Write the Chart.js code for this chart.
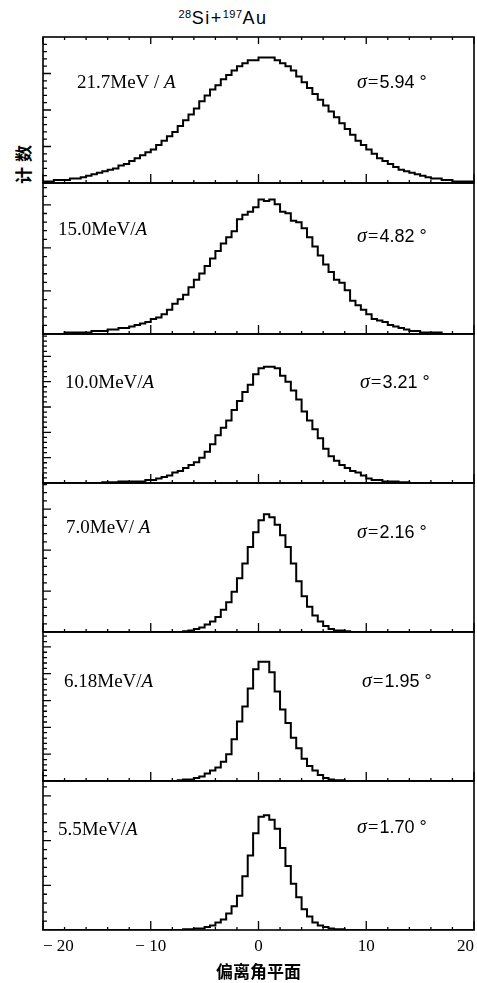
<!DOCTYPE html>
<html>
<head>
<meta charset="utf-8">
<script src="https://cdn.jsdelivr.net/npm/chart.js@4.4.0/dist/chart.umd.min.js"></script>
<style>
  html, body { margin: 0; padding: 0; background: #fff; overflow: hidden; }
  #wrap { position: relative; width: 477px; height: 983px; }
  #wrap canvas { position: absolute; left: 0; }
  #title { position: absolute; left: 0; width: 446px; top: 8px; text-align: center;
           font: 18px "Liberation Sans", Arial, sans-serif; letter-spacing: 1.5px; color: #000; }
  #title sup { font-size: 11px; vertical-align: 6px; letter-spacing: 0.5px; }
  #ylab { position: absolute; left: 22px; top: 162px; transform: translate(-50%, -50%) rotate(-90deg);
          white-space: nowrap; font: bold 17px "Noto Sans CJK SC", sans-serif; letter-spacing: 5px; color: #000; }
</style>
</head>
<body>
<div id="wrap">
  <div id="title"><sup>28</sup>Si+<sup>197</sup>Au</div>
  <div id="ylab">计数</div>
</div>
<script>
// bins: 0.5 degree wide, from -20 to +20
const binStart = -20;
const binWidth = 0.5;

const energies = ["21.7MeV / ", "15.0MeV/", "10.0MeV/", "7.0MeV/ ", "6.18MeV/", "5.5MeV/"];
const sigmas = ["5.94", "4.82", "3.21", "2.16", "1.95", "1.70"];
const xTickLabels = [-20, -10, 0, 10, 20];

// counts, in % of panel height
const counts21_7 = [1, 1, 2, 2, 2, 3, 3, 4, 5, 6, 7, 8, 9, 10, 12, 13, 15, 17, 19, 21,
  23, 26, 29, 32, 35, 39, 43, 47, 51, 56, 60, 64, 67, 71, 74, 77, 80, 82, 84, 84,
  86, 86, 86, 84, 82, 80, 77, 73, 69, 65, 61, 57, 53, 49, 45, 41, 37, 33, 29, 26,
  23, 20, 17, 15, 13, 11, 9, 8, 7, 6, 5, 4, 3, 3, 2, 2, 1, 1, 1, 1];
const counts15_0 = [0, 0, 0, 0, 1, 1, 1, 1, 1, 2, 2, 2, 3, 3, 4, 4, 5, 6, 7, 8,
  10, 11, 13, 16, 20, 23, 26, 31, 36, 40, 45, 50, 55, 60, 64, 68, 76, 79, 81, 84,
  89, 88, 89, 86, 81, 80, 75, 74, 70, 64, 58, 52, 46, 41, 36, 34, 29, 22, 19, 16,
  13, 10, 9, 8, 6, 5, 4, 3, 2, 2, 1, 1, 1, 1, 0, 0, 0, 0, 0, 0];
const counts10_0 = [0, 0, 0, 0, 0, 0, 0, 0, 0, 0, 0, 0.5, 0.5, 0.5, 1, 1, 1, 1, 1, 2,
  2, 3, 4, 5, 7, 8, 10, 12, 14, 17, 21, 26, 32, 37, 42, 49, 55, 61, 66, 73,
  77, 78, 78, 77, 72, 68, 62, 56, 48, 42, 36, 30, 23, 18, 15, 12, 10, 8, 7, 5,
  3, 2, 2, 1, 1, 1, 0.5, 0.5, 0, 0, 0, 0, 0, 0, 0, 0, 0, 0, 0, 0];
const counts7_0 = [0, 0, 0, 0, 0, 0, 0, 0, 0, 0, 0, 0, 0, 0, 0, 0, 0, 0, 0, 0,
  0, 0, 0, 0, 0, 0, 0.5, 1, 2, 3, 5, 7, 10, 15, 20, 27, 36, 46, 57, 67,
  75, 79, 77, 72, 65, 57, 46, 34, 24, 17, 11, 7, 4, 2, 1, 1, 0.5, 0, 0, 0,
  0, 0, 0, 0, 0, 0, 0, 0, 0, 0, 0, 0, 0, 0, 0, 0, 0, 0, 0, 0];
const counts6_18 = [0, 0, 0, 0, 0, 0, 0, 0, 0, 0, 0, 0, 0, 0, 0, 0, 0, 0, 0, 0,
  0, 0, 0, 0, 0, 0.5, 1, 1, 2, 3, 5, 7, 9, 13, 18, 28, 40, 50, 62, 75,
  80, 80, 73, 60, 48, 39, 29, 22, 15, 10, 7, 4, 2, 1, 0.5, 0.5, 0, 0, 0, 0,
  0, 0, 0, 0, 0, 0, 0, 0, 0, 0, 0, 0, 0, 0, 0, 0, 0, 0, 0, 0];
const counts5_5 = [0, 0, 0, 0, 0, 0, 0, 0, 0, 0, 0, 0, 0, 0, 0, 0, 0, 0, 0, 0,
  0, 0, 0, 0, 0, 0, 0.5, 0.5, 1, 1, 2, 3, 5, 7, 11, 16, 23, 36, 50, 65,
  76, 77, 74, 68, 55, 43, 31, 22, 14, 9, 5, 3, 2, 1, 0.5, 0.5, 0, 0, 0, 0,
  0, 0, 0, 0, 0, 0, 0, 0, 0, 0, 0, 0, 0, 0, 0, 0, 0, 0, 0, 0];

const series = [counts21_7, counts15_0, counts10_0, counts7_0, counts6_18, counts5_5];

// layout of the six panels (pixels)
const panelTop = [37, 183, 334, 483, 632, 781];
const panelBottom = [183, 334, 483, 632, 781, 930];
const labelX = [34, 15, 22, 23, 21, 15];
const labelY = [46, 47, 49, 45, 50, 49];
const sigmaX = [357, 357, 360, 357, 362, 357];
const sigmaY = [46, 54, 49, 50, 50, 47];
const yStep = [25, 28.5, 17, 27.5, 18, 30];

const framePlugin = {
  id: "frame",
  afterDraw(chart, args, o) {
    const { ctx, chartArea: a } = chart;
    const x = chart.scales.x, y = chart.scales.y;
    ctx.save();
    ctx.strokeStyle = "#000";
    ctx.lineWidth = 1.6;
    ctx.strokeRect(a.left, a.top, a.right - a.left, a.bottom - a.top);

    ctx.lineWidth = 1.3;
    ctx.beginPath();
    for (let v = -20; v <= 20; v += 2) {
      const px = x.getPixelForValue(v);
      const len = v % 10 === 0 ? 9 : 3;
      ctx.moveTo(px, a.bottom);
      ctx.lineTo(px, a.bottom - len);
      if (o.idx === 0) {
        ctx.moveTo(px, a.top);
        ctx.lineTo(px, a.top + (v % 10 === 0 ? 7 : 3));
      }
    }
    const step = yStep[o.idx] / 5;
    for (let k = 1; k * step < 100; k++) {
      const py = y.getPixelForValue(k * step);
      ctx.moveTo(a.left, py);
      ctx.lineTo(a.left + (k % 5 === 0 ? 8 : 4), py);
    }
    ctx.stroke();

    // panel texts
    ctx.fillStyle = "#000";
    ctx.textBaseline = "middle";
    ctx.textAlign = "left";
    let tx = a.left + labelX[o.idx];
    const ty = a.top + labelY[o.idx];
    ctx.font = '19px "Liberation Serif", serif';
    ctx.fillText(energies[o.idx], tx, ty);
    tx += ctx.measureText(energies[o.idx]).width;
    ctx.font = 'italic 19px "Liberation Serif", serif';
    ctx.fillText("A", tx, ty);

    let sx = sigmaX[o.idx];
    const sy = a.top + sigmaY[o.idx];
    ctx.font = 'italic 20px "Liberation Serif", serif';
    ctx.fillText("σ", sx, sy);
    sx += ctx.measureText("σ").width + 1;
    ctx.font = '19px "Liberation Serif", serif';
    ctx.fillText("=", sx, sy);
    sx += ctx.measureText("=").width + 1;
    ctx.font = '18px "Liberation Sans", sans-serif';
    ctx.fillText(sigmas[o.idx] + " °", sx, sy);
    ctx.restore();
  }
};

const wrap = document.getElementById("wrap");

series.forEach((values, i) => {
  const last = i === series.length - 1;
  const canvas = document.createElement("canvas");
  const top = panelTop[i] - 3;
  const h = last ? 3 + (panelBottom[i] - panelTop[i]) + 52 : (panelBottom[i] - panelTop[i]) + 6;
  canvas.width = 477;
  canvas.height = h;
  canvas.style.top = top + "px";
  canvas.style.width = "477px";
  canvas.style.height = h + "px";
  wrap.appendChild(canvas);

  const pts = values.map((v, k) => ({ x: binStart + k * binWidth, y: v }));
  pts.push({ x: binStart + values.length * binWidth, y: values[values.length - 1] });

  const xScale = {
    type: "linear",
    min: -20,
    max: 20,
    display: last,
    grid: { display: false, drawTicks: false },
    border: { display: false },
    afterBuildTicks: (s) => { s.ticks = xTickLabels.map(v => ({ value: v })); },
    ticks: {
      align: "inner",
      padding: 6,
      color: "#000",
      font: { family: '"Liberation Serif", serif', size: 17 },
      callback: (v) => (v < 0 ? "− " + Math.abs(v) : String(v))
    },
    title: {
      display: true,
      text: "偏离角平面",
      color: "#000",
      padding: { top: 0, bottom: 0 },
      font: { family: '"Noto Sans CJK SC", sans-serif', size: 17, weight: "bold" }
    }
  };
  if (last) {
    xScale.afterFit = (s) => { s.height = 52; s.paddingLeft = 0; s.paddingRight = 0; };
  }

  new Chart(canvas, {
    type: "line",
    data: {
      datasets: [{
        data: pts,
        stepped: "before",
        borderColor: "#000",
        borderWidth: 2,
        pointRadius: 0,
        fill: false
      }]
    },
    options: {
      responsive: false,
      animation: false,
      layout: { padding: { left: 43, right: 3, top: 3, bottom: last ? 0 : 3 } },
      scales: {
        x: xScale,
        y: { min: 0, max: 100, display: false }
      },
      plugins: {
        legend: { display: false },
        tooltip: { enabled: false },
        frame: { idx: i }
      }
    },
    plugins: [framePlugin]
  });
});
</script>
</body>
</html>
